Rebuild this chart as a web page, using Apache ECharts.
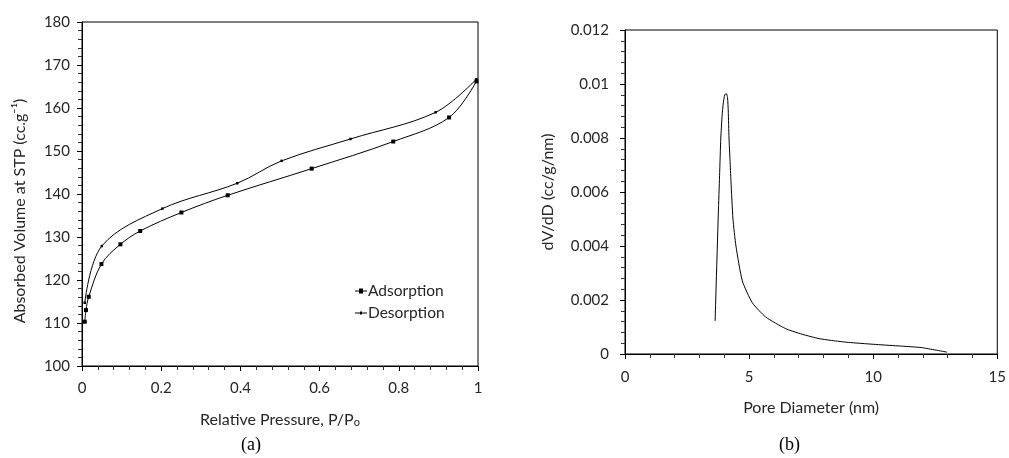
<!DOCTYPE html>
<html><head><meta charset="utf-8">
<script src="https://cdn.jsdelivr.net/npm/echarts@6/dist/echarts.min.js"></script>
<style>html,body{margin:0;padding:0;background:#fff}#c{width:1009px;height:458px}</style>
</head><body><div id="c"></div>
<script>
// (a) isotherm
const adsorptionP = [0.007, 0.010, 0.017, 0.049, 0.097, 0.147, 0.251, 0.368, 0.580, 0.786, 0.927, 0.996];
const adsorptionV = [110.3, 113.0, 116.1, 123.7, 128.3, 131.4, 135.7, 139.7, 145.9, 152.2, 157.8, 166.2];
const desorptionP = [0.007, 0.050, 0.203, 0.392, 0.504, 0.678, 0.893, 0.996];
const desorptionV = [114.7, 127.9, 136.6, 142.5, 147.7, 152.8, 159.0, 166.7];
// (b) pore size distribution
const poreD = [3.63, 3.70, 3.76, 3.81, 3.86, 3.91, 3.96, 4.02, 4.08, 4.13, 4.16, 4.19, 4.23, 4.27, 4.35, 4.47, 4.73, 5.13, 5.67, 6.47, 7.0, 7.76, 8.33, 9.0, 10.0, 11.0, 11.67, 12.0, 12.97];
const poreDV = [0.00122, 0.0034, 0.0052, 0.0066, 0.0080, 0.0088, 0.0093, 0.0096, 0.00965, 0.0095, 0.0090, 0.0080, 0.0072, 0.0064, 0.0050, 0.0040, 0.0027, 0.0019, 0.00137, 0.00094, 0.00077, 0.00058, 0.0005, 0.00043, 0.00036, 0.0003, 0.00026, 0.00023, 0.00007];
const xTicksA = [0, 0.2, 0.4, 0.6, 0.8, 1];
const yTicksA = [100, 110, 120, 130, 140, 150, 160, 170, 180];
const xTicksB = [0, 5, 10, 15];
const yTicksB = [0, 0.002, 0.004, 0.006, 0.008, 0.01, 0.012];

const zip = (a, b) => a.map((v, i) => [v, b[i]]);
const FONT = 'Lato';
const TXT = '#262626';
const AX = '#000';
const LBL = { color: TXT, fontFamily: FONT, fontSize: 15 };
const NAME = { color: TXT, fontFamily: FONT, fontSize: 16 };

function valAxis(idx, ticks, extra) {
  const step = ticks[1] - ticks[0];
  return Object.assign({
    type: 'value', gridIndex: idx,
    min: ticks[0], max: ticks[ticks.length - 1], interval: step,
    axisLine: { show: true, lineStyle: { color: AX, width: 1 } },
    axisTick: { show: true, inside: false, length: 5, lineStyle: { color: AX } },
    minorTick: { show: true, splitNumber: 5, length: 4, lineStyle: { color: '#333' } },
    splitLine: { show: false },
    nameLocation: 'middle'
  }, extra);
}

const chart = echarts.init(document.getElementById('c'), null, { renderer: 'canvas' });
chart.setOption({
  backgroundColor: '#fff',
  animation: false,
  grid: [
    { left: 82, right: 531, top: 22, bottom: 92, show: true, borderColor: AX, borderWidth: 1, containLabel: false },
    { left: 625, right: 9, top: 30, bottom: 104, show: true, borderColor: AX, borderWidth: 1, containLabel: false }
  ],
  xAxis: [
    valAxis(0, xTicksA, { name: 'Relative Pressure, P/P{s|o}', nameGap: 45,
      nameTextStyle: Object.assign({}, NAME, { rich: { s: { fontFamily: FONT, fontSize: 11, color: TXT, verticalAlign: 'bottom', padding: [6, 0, 0, 0] } } }),
      axisLabel: Object.assign({ margin: 15 }, LBL) }),
    valAxis(1, xTicksB, { name: 'Pore Diameter (nm)', nameGap: 46, nameTextStyle: NAME,
      axisLabel: Object.assign({ margin: 16 }, LBL) })
  ],
  yAxis: [
    valAxis(0, yTicksA, { name: 'Absorbed Volume at STP (cc.g⁻¹)', nameGap: 54,
      nameTextStyle: Object.assign({}, NAME, { padding: [0, 34, 0, 0] }),
      axisLabel: Object.assign({ margin: 12 }, LBL) }),
    valAxis(1, yTicksB, { name: 'dV/dD (cc/g/nm)', nameGap: 69, nameTextStyle: NAME,
      axisLabel: Object.assign({ margin: 16 }, LBL) })
  ],
  legend: {
    data: [
      { name: 'Adsorption', icon: 'path://M0,2h4v-2h4v2h4v1h-4v2h-4v-2h-4z' },
      { name: 'Desorption', icon: 'path://M0,2h5v-1h2v1h5v1h-5v1h-2v-1h-5z' }
    ],
    orient: 'vertical', left: 350, top: 278, itemGap: 6,
    itemWidth: 12, itemHeight: 5, symbolKeepAspect: true,
    textStyle: { color: TXT, fontFamily: FONT, fontSize: 15.5, padding: [0, 0, 0, -4] }
  },
  series: [
    { name: 'Adsorption', type: 'line', xAxisIndex: 0, yAxisIndex: 0, data: zip(adsorptionP, adsorptionV),
      smooth: 0.35, symbol: 'rect', symbolSize: 4, showSymbol: true,
      lineStyle: { color: '#000', width: 1 }, itemStyle: { color: '#000' } },
    { name: 'Desorption', type: 'line', xAxisIndex: 0, yAxisIndex: 0, data: zip(desorptionP, desorptionV),
      smooth: 0.35, symbol: 'rect', symbolSize: 2.5, showSymbol: true,
      lineStyle: { color: '#000', width: 1 }, itemStyle: { color: '#000' } },
    { name: 'PSD', type: 'line', xAxisIndex: 1, yAxisIndex: 1, data: zip(poreD, poreDV),
      smooth: 0.2, showSymbol: false, symbol: 'none',
      lineStyle: { color: '#000', width: 1 } }
  ],
  graphic: [
    { type: 'text', left: 241, top: 436, style: { text: '(a)', font: '18px "Liberation Serif"', fill: '#000' } },
    { type: 'text', left: 779, top: 436, style: { text: '(b)', font: '18px "Liberation Serif"', fill: '#000' } }
  ]
});
</script></body></html>
